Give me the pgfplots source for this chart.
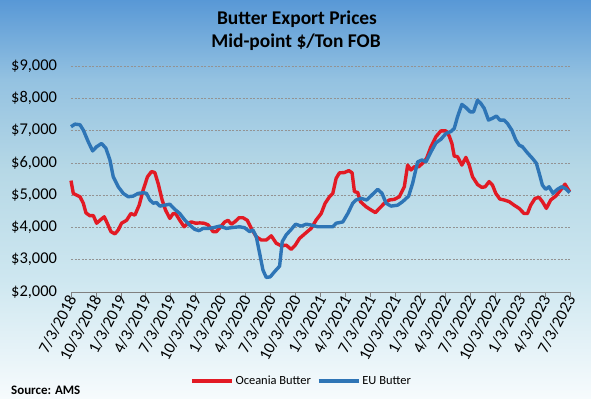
\documentclass[border=0pt]{standalone}
\usepackage{pgfplots}
\pgfplotsset{compat=1.18}
\usepackage{pgfplotstable}
\usepackage{fontspec}
\setmainfont{Carlito}
\definecolor{ocred}{RGB}{226,26,36}
\definecolor{eublue}{RGB}{46,117,182}
\definecolor{bgtop}{RGB}{88,152,214}
\definecolor{bgm1}{RGB}{148,194,225}
\definecolor{bgm2}{RGB}{182,216,230}
\definecolor{bgm3}{RGB}{206,231,240}
\definecolor{bgbot}{RGB}{247,251,253}

\pgfplotstableread{
m v
0 5450
0.28 5050
0.68 5000
1.08 4950
1.48 4750
1.8 4450
2.28 4360
2.68 4370
3.08 4130
3.48 4220
4.0 4330
4.36 4130
4.8 3870
5.28 3800
5.68 3920
6.08 4130
6.68 4220
7.2 4430
7.68 4380
8.2 4690
8.68 5160
9.2 5570
9.68 5730
10.08 5700
10.48 5360
10.96 4850
11.36 4540
11.88 4280
12.28 4430
12.6 4420
13.08 4220
13.6 4020
14.08 4130
14.48 4170
15.0 4130
15.48 4140
16.0 4130
16.48 4080
17.08 3870
17.48 3870
18.0 4020
18.48 4170
18.88 4220
19.28 4100
19.68 4170
20.2 4300
20.68 4300
21.2 4220
21.68 3970
22.28 3710
22.88 3610
23.48 3610
24.08 3740
24.68 3510
25.28 3430
25.88 3450
26.48 3320
26.96 3450
27.48 3660
28.28 3840
28.88 3970
29.48 4230
30.08 4430
30.56 4750
31.08 4950
31.48 5055
31.88 5520
32.28 5690
32.88 5700
33.4 5760
33.8 5690
34.08 5110
34.48 5080
34.8 4800
35.48 4640
36.08 4540
36.6 4460
37.08 4590
37.68 4750
38.28 4850
38.88 4870
39.48 4950
40.08 5260
40.48 5930
40.88 5780
41.28 5880
41.8 5880
42.28 5990
42.76 6140
43.28 6500
43.88 6810
44.48 6990
45.08 6990
45.48 6830
45.8 6600
46.08 6210
46.48 6190
47.0 5930
47.48 6170
47.88 5930
48.28 5570
48.88 5330
49.4 5240
49.8 5260
50.28 5420
50.68 5310
51.08 5055
51.56 4880
52.08 4850
52.68 4800
53.28 4690
53.88 4590
54.48 4430
54.88 4430
55.28 4690
55.8 4900
56.28 4930
56.68 4800
57.16 4590
57.68 4850
58.28 4970
58.88 5160
59.4 5340
59.96 5100
}\oceania

\pgfplotstableread{
m v
0 7120
0.48 7200
1.08 7180
1.48 7015
2.08 6650
2.6 6370
3.08 6500
3.68 6600
4.2 6450
4.68 6090
5.08 5570
5.68 5260
6.28 5055
6.88 4950
7.48 4970
8.08 5055
8.68 5075
9.08 5055
9.48 4850
9.88 4750
10.28 4770
10.68 4660
11.28 4690
11.88 4720
12.48 4560
13.08 4430
13.68 4230
14.28 4070
14.88 3940
15.4 3900
15.88 3970
16.48 3970
17.08 3990
17.88 4040
18.68 3970
19.48 4000
20.28 4020
20.88 3990
21.48 3870
21.88 3920
22.28 3710
22.68 3200
23.08 2680
23.48 2450
23.96 2470
24.48 2630
25.08 2800
25.4 3560
25.88 3770
26.48 3940
27.0 4100
27.68 4040
28.28 4100
28.88 4075
29.68 4020
30.28 4020
31.48 4020
31.88 4130
32.68 4170
33.28 4430
33.88 4750
34.28 4850
34.88 4900
35.56 4850
36.08 4980
36.88 5180
37.4 5055
37.88 4750
38.48 4660
39.28 4690
39.88 4800
40.6 4970
41.08 5370
41.68 6030
42.2 6090
42.68 6030
43.28 6340
43.88 6620
44.48 6730
45.08 6910
45.68 6970
46.08 7065
46.48 7430
47.0 7810
47.48 7715
48.0 7580
48.4 7580
48.88 7940
49.28 7840
49.68 7690
50.2 7325
50.68 7380
51.16 7450
51.56 7325
52.08 7325
52.48 7220
53.0 7015
53.48 6710
53.88 6550
54.28 6500
54.88 6310
55.48 6140
55.96 5985
56.36 5620
56.68 5310
57.08 5180
57.48 5260
57.96 5055
58.48 5180
59.0 5260
59.48 5200
59.96 5075
}\eu

\begin{document}
\begin{tikzpicture}
\useasboundingbox (0,0) rectangle (591bp,399bp);
\shade[top color=bgtop, bottom color=bgm1] (0,319bp) rectangle (591bp,399.5bp);
\shade[top color=bgm1, bottom color=bgm2] (0,229bp) rectangle (591bp,319.2bp);
\shade[top color=bgm2, bottom color=bgm3] (0,119bp) rectangle (591bp,229.2bp);
\shade[top color=bgm3, bottom color=bgbot] (0,-0.5bp) rectangle (591bp,119.2bp);
\begin{axis}[
  at={(71bp,107bp)}, anchor=south west,
  scale only axis, width=499bp, height=226bp,
  xmin=0, xmax=60, ymin=2000, ymax=9000,
  axis x line=bottom, axis y line=left,
  axis line style={-},
  x axis line style={draw=gray, line width=0.8bp},
  y axis line style={draw=none},
  xtick={0,3,...,60},
  xticklabels={7/3/2018,10/3/2018,1/3/2019,4/3/2019,7/3/2019,10/3/2019,1/3/2020,4/3/2020,7/3/2020,10/3/2020,1/3/2021,4/3/2021,7/3/2021,10/3/2021,1/3/2022,4/3/2022,7/3/2022,10/3/2022,1/3/2023,4/3/2023,7/3/2023},
  x tick label style={font=\fontsize{16.5}{17}\selectfont, rotate=62, anchor=east, inner sep=1bp, xshift=2bp, yshift=-1bp},
  xtick align=outside, major tick length=5bp,
  x tick style={draw=gray, line width=0.8bp},
  ytick={2000,3000,...,9000},
  yticklabels={\$2{,}000,\$3{,}000,\$4{,}000,\$5{,}000,\$6{,}000,\$7{,}000,\$8{,}000,\$9{,}000},
  y tick label style={font=\fontsize{16.5}{17}\selectfont, xshift=-8bp},
  y tick style={draw=none},
  ymajorgrids,
  grid style={draw=gray!85, line width=0.6bp, dash pattern=on 2bp off 1.5bp},
  /pgf/number format/assume math mode=true,
  legend columns=2,
  legend style={at={(0.462,-0.394)}, anchor=center, draw=none, fill=none,
    font=\fontsize{12.5}{13}\selectfont, /tikz/every even column/.append style={column sep=4bp}},
  legend image code/.code={\draw[#1] (0bp,0bp) -- (40bp,0bp);},
  clip=false,
]
\addplot[ocred, line width=3.4bp, line join=round] table[x=m,y=v] {\oceania};
\addlegendentry{Oceania Butter}
\addplot[eublue, line width=3.4bp, line join=round] table[x=m,y=v] {\eu};
\addlegendentry{EU Butter}
\end{axis}
\node[anchor=base, font=\bfseries\fontsize{19.5}{20}\selectfont] at (297bp,374bp) {Butter Export Prices};
\node[anchor=base, font=\bfseries\fontsize{19.5}{20}\selectfont] at (296bp,351bp) {Mid-point \$/Ton FOB};
\node[anchor=base west, font=\bfseries\fontsize{13}{14}\selectfont, inner sep=0pt] at (11bp,5bp) {Source: AMS};
\end{tikzpicture}
\end{document}
